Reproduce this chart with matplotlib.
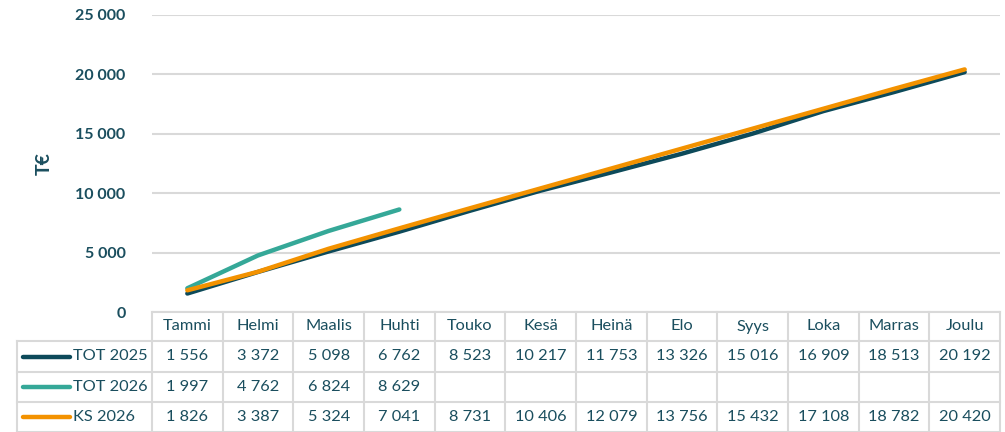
import matplotlib
matplotlib.use("Agg")
import matplotlib.pyplot as plt

plt.rcParams['font.family'] = ['Lato', 'DejaVu Sans']

months = ["Tammi", "Helmi", "Maalis", "Huhti", "Touko", "Kesä", "Heinä",
          "Elo", "Syys", "Loka", "Marras", "Joulu"]
series_names = ["TOT 2025", "TOT 2026", "KS 2026"]
tot_2025 = [1556, 3372, 5098, 6762, 8523, 10217, 11753, 13326, 15016, 16909, 18513, 20192]
tot_2026 = [1997, 4762, 6824, 8629]
ks_2026 = [1826, 3387, 5324, 7041, 8731, 10406, 12079, 13756, 15432, 17108, 18782, 20420]
yticks = [0, 5000, 10000, 15000, 20000, 25000]

colors = ["#0D4A5A", "#35A898", "#F39200"]
text_col = "#1A4E5E"
grid_col = "#D9D9D9"

W, H = 1005, 432
fig = plt.figure(figsize=(W / 100, H / 100), dpi=100)

left_px, right_px, top_px, bot_px = 152, 1000, 15, 312
ax = fig.add_axes([left_px / W, 1 - bot_px / H, (right_px - left_px) / W, (bot_px - top_px) / H])

def fmt(v):
    return f"{v:,}".replace(",", " ")

all_series = [tot_2025, tot_2026, ks_2026]
for vals, c in zip(all_series, colors):
    ax.plot(range(len(vals)), vals, color=c, lw=3.2, solid_capstyle="round", solid_joinstyle="round")

ax.set_xlim(-0.5, len(months) - 0.5)
ax.set_ylim(0, 25000)
ax.set_yticks(yticks)
ax.set_yticklabels([fmt(v) for v in yticks], fontsize=11.5, fontweight="bold", color=text_col)
ax.tick_params(axis="y", length=0, pad=19)
ax.set_xticks([])
ax.grid(axis="y", color=grid_col, lw=1.5)
ax.set_axisbelow(True)
for s in ax.spines.values():
    s.set_visible(False)
ax.set_ylabel("T€", fontsize=14, fontweight="bold", color=text_col, labelpad=16)

# data table overlay
ov = fig.add_axes([0, 0, 1, 1])
ov.set_xlim(0, W)
ov.set_ylim(H, 0)
ov.axis("off")
ov.patch.set_alpha(0)

n = len(months)
colw = (right_px - left_px) / n
row_edges = [312, 341, 372, 402, 432]
lw = 1.5

ov.plot([left_px, right_px], [row_edges[0]] * 2, color=grid_col, lw=lw)
for y in row_edges[1:]:
    ov.plot([17, right_px], [y, y], color=grid_col, lw=lw)
for i in range(n + 1):
    x = left_px + i * colw
    ov.plot([x, x], [row_edges[0], row_edges[-1]], color=grid_col, lw=lw)
ov.plot([17, 17], [row_edges[1], row_edges[-1]], color=grid_col, lw=lw)

fs = 11.8
for i, m in enumerate(months):
    cx = left_px + (i + 0.5) * colw
    ov.text(cx, (row_edges[0] + row_edges[1]) / 2, m, ha="center", va="center",
            fontsize=fs, color=text_col)
for r, (name, vals, c) in enumerate(zip(series_names, all_series, colors)):
    cy = (row_edges[r + 1] + row_edges[r + 2]) / 2
    ov.plot([23, 70], [cy, cy], color=c, lw=3.2, solid_capstyle="round")
    ov.text(73, cy, name, ha="left", va="center", fontsize=fs, color=text_col)
    for i, v in enumerate(vals):
        cx = left_px + (i + 0.5) * colw
        ov.text(cx, cy, fmt(v), ha="center", va="center", fontsize=fs, color=text_col)

fig.savefig("out.png", dpi=100)
